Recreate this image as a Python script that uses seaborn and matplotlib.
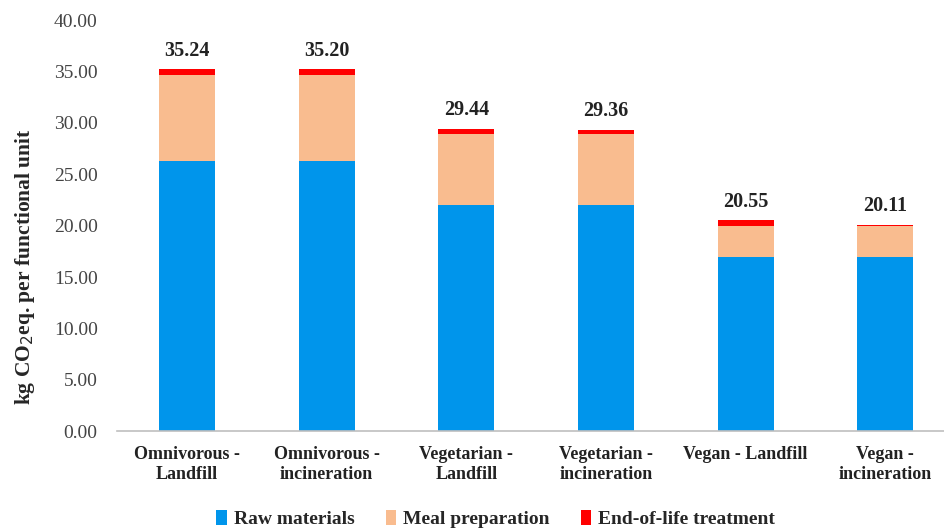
import matplotlib
matplotlib.use("Agg")
import matplotlib.pyplot as plt
from matplotlib.patches import Patch
import seaborn as sns
import numpy as np
import pandas as pd

# values
scenarios = ["Omnivorous -\nLandfill", "Omnivorous -\nincineration",
             "Vegetarian -\nLandfill", "Vegetarian -\nincineration",
             "Vegan - Landfill", "Vegan -\nincineration"]
raw_materials = [26.26, 26.26, 21.98, 21.98, 16.93, 16.93]
meal_preparation = [8.44, 8.44, 6.95, 6.95, 3.02, 3.02]
end_of_life = [0.54, 0.50, 0.51, 0.43, 0.60, 0.16]
totals = [35.24, 35.20, 29.44, 29.36, 20.55, 20.11]
series = ["Raw materials", "Meal preparation", "End-of-life treatment"]
colors = ["#0095EB", "#F9BC8F", "#FF0000"]

sns.set_style("white")
plt.rcParams["font.family"] = ["Liberation Serif", "DejaVu Serif"]

df = pd.DataFrame({"scenario": scenarios,
                   "raw": raw_materials,
                   "meal": meal_preparation,
                   "eol": end_of_life})
df["lvl1"] = df["raw"]
df["lvl2"] = df["raw"] + df["meal"]
df["lvl3"] = df["lvl2"] + df["eol"]

fig = plt.figure(figsize=(9.44, 5.31), dpi=100)
ax = fig.add_axes([0.124, 0.188, 0.876, 0.774])

# stacked bars: draw cumulative heights, tallest first
for col, c in zip(["lvl3", "lvl2", "lvl1"], colors[::-1]):
    sns.barplot(data=df, x="scenario", y=col, color=c, width=0.4,
                saturation=1, ax=ax, edgecolor="none")

for i, t in enumerate(totals):
    ax.text(i, t + 1.8, f"{t:.2f}", ha="center", va="center",
            fontsize=14.5, fontweight="bold", color="#222222")

ax.set_ylim(0, 40)
ax.set_xlim(-0.5, 5.42)
ax.set_yticks(np.arange(0, 40.1, 5))
ax.set_yticklabels([f"{v:.2f}" for v in np.arange(0, 40.1, 5)],
                   fontsize=14, color="#444444")
ax.set_xticks(range(len(scenarios)))
ax.set_xticklabels(scenarios, fontsize=13, fontweight="bold",
                   color="#222222", linespacing=1.2)
ax.tick_params(axis="y", length=0, pad=14)
ax.tick_params(axis="x", length=0, pad=11)
ax.set_xlabel("")
ax.set_ylabel("kg CO$_2$eq. per functional unit", fontsize=15.5,
              fontweight="bold")
ax.yaxis.set_label_coords(-0.097, 0.40)
for s in ["top", "right", "left"]:
    ax.spines[s].set_visible(False)
ax.spines["bottom"].set_color("#BFBFBF")
ax.spines["bottom"].set_linewidth(1.2)

handles = [Patch(facecolor=c, edgecolor="none") for c in colors]
fig.legend(handles, series, loc="center", ncol=3,
           bbox_to_anchor=(0.525, 0.022), frameon=False,
           prop={"weight": "bold", "size": 14},
           handlelength=0.55, handleheight=0.8, handletextpad=0.35,
           columnspacing=1.6)

fig.savefig("out.png", dpi=100)
